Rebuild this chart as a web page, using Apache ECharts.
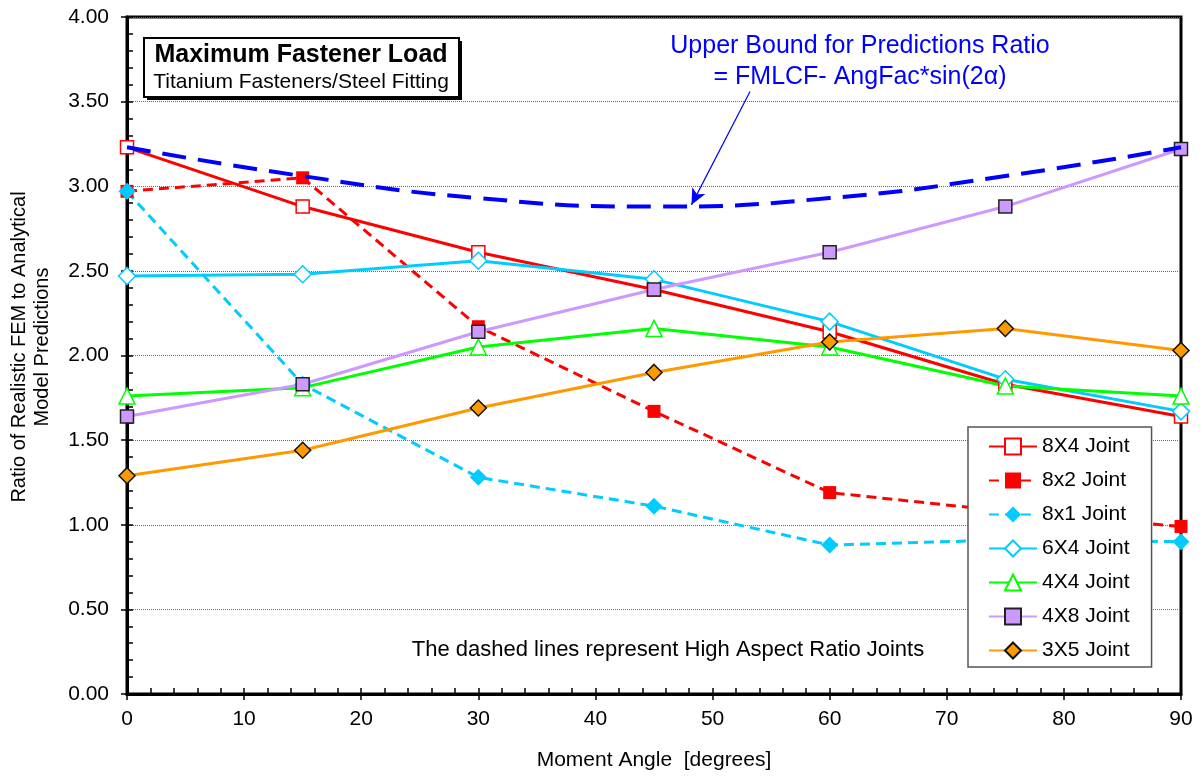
<!DOCTYPE html>
<html>
<head>
<meta charset="utf-8">
<script src="https://cdn.jsdelivr.net/npm/echarts@6/dist/echarts.min.js"></script>
<style>
html,body{margin:0;padding:0;background:#fff;}
#chart{width:1203px;height:776px;}
</style>
</head>
<body>
<div id="chart"></div>
<script>
var angles = [0, 15, 30, 45, 60, 75, 90];
var j8x4 = [3.23, 2.88, 2.61, 2.39, 2.14, 1.83, 1.64];
var j8x2 = [2.97, 3.05, 2.17, 1.67, 1.19, 1.08, 0.99];
var j8x1 = [2.97, 1.83, 1.28, 1.11, 0.88, 0.91, 0.90];
var j6x4 = [2.47, 2.48, 2.56, 2.45, 2.20, 1.86, 1.67];
var j4x4 = [1.76, 1.81, 2.05, 2.16, 2.05, 1.82, 1.76];
var j4x8 = [1.64, 1.83, 2.14, 2.39, 2.61, 2.88, 3.22];
var j3x5 = [1.29, 1.44, 1.69, 1.90, 2.08, 2.16, 2.03];
var upperBound = [3.23, 3.06, 2.93, 2.88, 2.93, 3.06, 3.23];
var seriesNames = ['8X4 Joint', '8x2 Joint', '8x1 Joint', '6X4 Joint', '4X4 Joint', '4X8 Joint', '3X5 Joint'];
var arrowStart = [53.2, 3.56];
var arrowEnd = [48.2, 2.89];

function pts(vals) { return angles.map(function (a, i) { return [a, vals[i]]; }); }

var FONT = '"Liberation Sans", Arial, sans-serif';
var RED = '#FF0000', CYAN = '#00CCFF', GREEN = '#00FF00', LILAC = '#CC99FF', ORANGE = '#FF9900', BLUE = '#0000FF';

function mk(name, vals, color, dashed, symbol, size, fill, border, bw) {
  return {
    name: name, type: 'line', data: pts(vals),
    symbol: symbol, symbolSize: size,
    lineStyle: { color: color, width: 3, type: dashed ? [10, 6] : 'solid' },
    itemStyle: { color: fill, borderColor: border, borderWidth: bw },
    emphasis: { disabled: true }
  };
}

var chart = echarts.init(document.getElementById('chart'), null, { renderer: 'canvas' });
var option = {
  animation: false,
  backgroundColor: '#fff',
  textStyle: { fontFamily: FONT },
  grid: { left: 127, right: 22, top: 17, bottom: 82, show: true, borderColor: '#000', borderWidth: 3, backgroundColor: 'transparent' },
  xAxis: [{
    type: 'value', min: 0, max: 90, interval: 10, position: 'bottom',
    name: 'Moment Angle  [degrees]', nameLocation: 'middle', nameGap: 56,
    nameTextStyle: { fontFamily: FONT, fontSize: 21, color: '#000' },
    axisLine: { show: true, lineStyle: { color: '#000', width: 3 } },
    axisTick: { show: true, inside: false, length: 6, lineStyle: { color: '#000', width: 1.5 } },
    axisLabel: { fontFamily: FONT, fontSize: 21, color: '#000', margin: 15 },
    splitLine: { show: false }
  }, {
    type: 'value', min: 0, max: 90, interval: 2, position: 'bottom',
    axisLine: { show: false },
    axisTick: { show: true, inside: true, length: 6, lineStyle: { color: '#000', width: 1.5 } },
    axisLabel: { show: false },
    splitLine: { show: false }
  }],
  yAxis: [{
    type: 'value', min: 0, max: 4, interval: 0.5, position: 'left',
    axisLine: { show: true, lineStyle: { color: '#000', width: 3 } },
    axisTick: { show: true, inside: false, length: 6, lineStyle: { color: '#000', width: 1.5 } },
    axisLabel: { fontFamily: FONT, fontSize: 21, color: '#000', margin: 18, formatter: function (v) { return v.toFixed(2); } },
    splitLine: { show: true, lineStyle: { color: '#4a64e8', width: 1, type: 'dotted' } }
  }, {
    type: 'value', min: 0, max: 4, interval: 0.1, position: 'left',
    axisLine: { show: false },
    axisTick: { show: true, inside: true, length: 6, lineStyle: { color: '#000', width: 1.5 } },
    axisLabel: { show: false },
    splitLine: { show: false }
  }],
  legend: {
    data: seriesNames, orient: 'vertical', left: 968, top: 427,
    itemWidth: 48, itemHeight: 20, itemGap: 13,
    padding: [9, 22, 6, 20],
    backgroundColor: '#fff', borderColor: '#555', borderWidth: 1.5,
    textStyle: { fontFamily: FONT, fontSize: 21, color: '#000', lineHeight: 21 },
    selectedMode: false
  },
  series: [
    mk(seriesNames[0], j8x4, RED, false, 'rect', 13, '#fff', RED, 1.5),
    mk(seriesNames[1], j8x2, RED, true, 'rect', 13, RED, RED, 0),
    mk(seriesNames[2], j8x1, CYAN, true, 'diamond', 17, CYAN, CYAN, 0),
    mk(seriesNames[3], j6x4, CYAN, false, 'diamond', 17, '#fff', CYAN, 1.5),
    mk(seriesNames[4], j4x4, GREEN, false, 'triangle', 16, '#fff', GREEN, 1.5),
    mk(seriesNames[5], j4x8, LILAC, false, 'rect', 13, LILAC, '#222', 1.5),
    mk(seriesNames[6], j3x5, ORANGE, false, 'diamond', 16, ORANGE, '#111', 1.5),
    {
      name: 'Upper Bound', type: 'line', data: pts(upperBound), smooth: 0.5,
      symbol: 'none', z: 5,
      lineStyle: { color: BLUE, width: 4, type: [24, 12] },
      emphasis: { disabled: true },
      markLine: {
        silent: true, symbol: ['none', 'arrow'], symbolSize: [11, 16],
        label: { show: false },
        lineStyle: { color: BLUE, width: 1.2, type: 'solid' },
        emphasis: { disabled: true },
        data: [[{ coord: arrowStart }, { coord: arrowEnd }]]
      }
    }
  ],
  graphic: [
    { type: 'text', x: 31, y: 347, rotation: Math.PI / 2, z: 12, style: { text: 'Ratio of Realistic FEM to Analytical\nModel Predictions', font: '20px ' + FONT, lineHeight: 23, fill: '#000', align: 'center', verticalAlign: 'middle' } },
    { type: 'rect', left: 147, top: 41, shape: { width: 315, height: 59 }, style: { fill: '#000' }, z: 10 },
    { type: 'rect', left: 143, top: 37, shape: { width: 315, height: 59 }, style: { fill: '#fff', stroke: '#000', lineWidth: 2 }, z: 11 },
    { type: 'text', x: 301, y: 55, z: 12, style: { text: 'Maximum Fastener Load', font: 'bold 25px ' + FONT, fill: '#000', align: 'center', verticalAlign: 'middle' } },
    { type: 'text', x: 301, y: 82, z: 12, style: { text: 'Titanium Fasteners/Steel Fitting', font: '21px ' + FONT, fill: '#000', align: 'center', verticalAlign: 'middle' } },
    { type: 'text', x: 860, y: 46, z: 12, style: { text: 'Upper Bound for Predictions Ratio', font: '25px ' + FONT, fill: BLUE, align: 'center', verticalAlign: 'middle' } },
    { type: 'text', x: 860, y: 77, z: 12, style: { text: '= FMLCF- AngFac*sin(2\u03B1)', font: '25px ' + FONT, fill: BLUE, align: 'center', verticalAlign: 'middle' } },
    { type: 'text', x: 668, y: 650, z: 12, style: { text: 'The dashed lines represent High Aspect Ratio Joints', font: '22px ' + FONT, fill: '#000', align: 'center', verticalAlign: 'middle' } }
  ]
};
chart.setOption(option);
</script>
</body>
</html>
